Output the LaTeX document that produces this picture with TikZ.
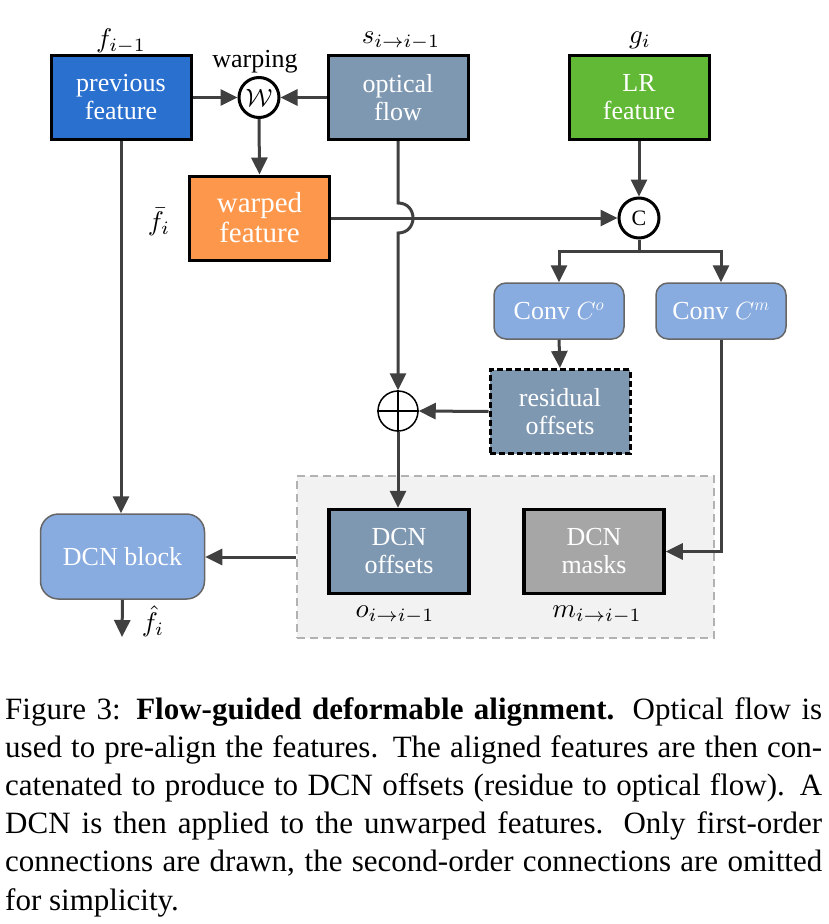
\documentclass[tikz,border=0pt]{standalone}
\usepackage{amsmath,amssymb}
\usepackage{graphicx}
\usepackage{fontspec}
\setmainfont{Liberation Serif}
\usepackage{xcolor}
\usetikzlibrary{arrows.meta}

\definecolor{prevblue}{RGB}{42,112,207}
\definecolor{flowgray}{RGB}{127,152,178}
\definecolor{lrgreen}{RGB}{98,185,54}
\definecolor{warporange}{RGB}{253,151,75}
\definecolor{convblue}{RGB}{137,172,224}
\definecolor{maskgray}{RGB}{166,166,166}
\definecolor{linegray}{RGB}{64,64,64}
\definecolor{groupfill}{RGB}{242,242,242}
\definecolor{groupline}{RGB}{178,178,178}

% math labels, drawn at 10pt and scaled up
\newcommand{\mlab}[1]{\scalebox{2.7}{$#1$}}

\begin{document}
\begin{tikzpicture}[x=1pt,y=-1pt,
    feat/.style={draw=black, line width=3pt, minimum width=140pt, minimum height=84pt,
        inner sep=0pt, align=center, text=white, font=\rmfamily\fontsize{26}{28}\selectfont},
    conv/.style={draw=black!60, line width=1.5pt, fill=convblue, rounded corners=12pt,
        minimum width=130pt, minimum height=56pt, inner sep=0pt, align=center,
        text=white, font=\rmfamily\fontsize{26}{28}\selectfont},
    op/.style={circle, draw=black, line width=3pt, fill=white, minimum size=40pt, inner sep=0pt},
    lbl/.style={inner sep=0pt},
    conn/.style={draw=linegray, line width=3pt},
    conarr/.style={conn, -{Triangle[length=17pt,width=16pt]}}]
    \useasboundingbox (0,0) rectangle (828,924);

    % Grouped DCN offsets and masks
    \node[draw=groupline, fill=groupfill, line width=2.5pt, dash pattern=on 8pt off 5pt,
        minimum width=417pt, minimum height=162pt] (group) at (505.5,557) {};

    % Top row
    \node[feat, fill=prevblue] (prev) at (121,97.5) {previous\\feature};
    \node[feat, fill=flowgray] (opt) at (398,97.5) {optical\\flow};
    \node[feat, fill=lrgreen] (lr) at (639,97.5) {LR\\feature};
    \node[op] (warp) at (259,97.5) {\scalebox{2.5}{$\mathcal{W}$}};
    \node[lbl] (fprev) at (121,41) {\mlab{f_{i-1}}};
    \node[lbl] (sflow) at (401,41) {\mlab{s_{i\rightarrow i-1}}};
    \node[lbl] (glr) at (640,40) {\mlab{g_i}};
    \node[lbl, font=\fontsize{26}{28}\selectfont] (warplbl) at (255,62) {warping};

    % Warped feature and concatenation
    \node[feat, fill=warporange, font=\rmfamily\fontsize{29}{30}\selectfont] (warped) at (259.5,218) {warped\\feature};
    \node[lbl] (fbar) at (159,222) {\mlab{\bar{f}_i}};
    \node[op, font=\fontsize{22}{24}\selectfont] (cat) at (639,218) {C};

    % Offset and mask branches
    \node[conv] (convo) at (559,311) {Conv $C^o$};
    \node[conv] (convm) at (721,311) {Conv $C^m$};
    \node[feat, fill=flowgray, dash pattern=on 6pt off 3pt] (resid) at (560,411.5) {residual\\offsets};
    \node[circle, draw=black, line width=1.5pt, fill=white, minimum size=40pt, inner sep=0pt] (plus) at (398,411) {};
    \draw[black, line width=1.5pt] (plus.north) -- (plus.south) (plus.west) -- (plus.east);

    % Bottom row
    \node[feat, fill=flowgray, line width=3.5pt] (offs) at (399,551.5) {DCN\\offsets};
    \node[feat, fill=maskgray, line width=3.5pt] (masks) at (594,551.5) {DCN\\masks};
    \node[lbl] (olbl) at (395,615) {\mlab{o_{i\rightarrow i-1}}};
    \node[lbl] (mlbl) at (597,615) {\mlab{m_{i\rightarrow i-1}}};
    \node[conv, rounded corners=18pt, minimum width=164pt, minimum height=85pt] (dcn) at (122.5,556.5) {DCN block};
    \coordinate (out) at (122,637);
    \node[lbl] (fhat) at (153,621) {\mlab{\hat{f}_i}};

    % Connections
    \coordinate (jmp) at (opt.south |- warped.east);
    \coordinate (split) at (639,251);
    \draw[conarr] (prev.east) -- (warp.west);
    \draw[conarr] (opt.west) -- (warp.east);
    \draw[conarr] (warp.south) -- (warped.north);
    \draw[conarr] (warped.east) -- (cat.west);
    \draw[conarr] (opt.south) -- ([yshift=15pt]jmp) .. controls +(20,0) and +(20,0) .. ([yshift=-15pt]jmp) -- (plus.north);
    \draw[conarr] (lr.south) -- (cat.north);
    \draw[conn] (cat.south) -- (split);
    \draw[conarr] (split) -| (convo.north);
    \draw[conarr] (split) -| (convm.north);
    \draw[conarr] (convo.south) -- (resid.north);
    \draw[conarr] (resid.west) -- (plus.east);
    \draw[conarr] (plus.south) -- (plus.south |- offs.north);
    \draw[conarr] (convm.south) |- (masks.east);
    \draw[conarr] (group.west) -- (dcn.east |- group.west);
    \draw[conarr] (prev.south) -- (prev.south |- dcn.north);
    \draw[conarr] (dcn.south) -- (out);

    % Caption
    \node[anchor=base west, inner sep=0pt, font=\fontsize{31}{38.2}\selectfont] (caption) at (5,719)
        {\parbox[t]{817pt}{\baselineskip=38.2pt
        Figure 3: \textbf{Flow-guided deformable alignment.} Optical flow is\linebreak
        used to pre-align the features. The aligned features are then con-\linebreak
        catenated to produce to DCN offsets (residue to optical flow). A\linebreak
        DCN is then applied to the unwarped features. Only first-order\linebreak
        connections are drawn, the second-order connections are omitted\linebreak
        for simplicity.}};
\end{tikzpicture}
\end{document}
